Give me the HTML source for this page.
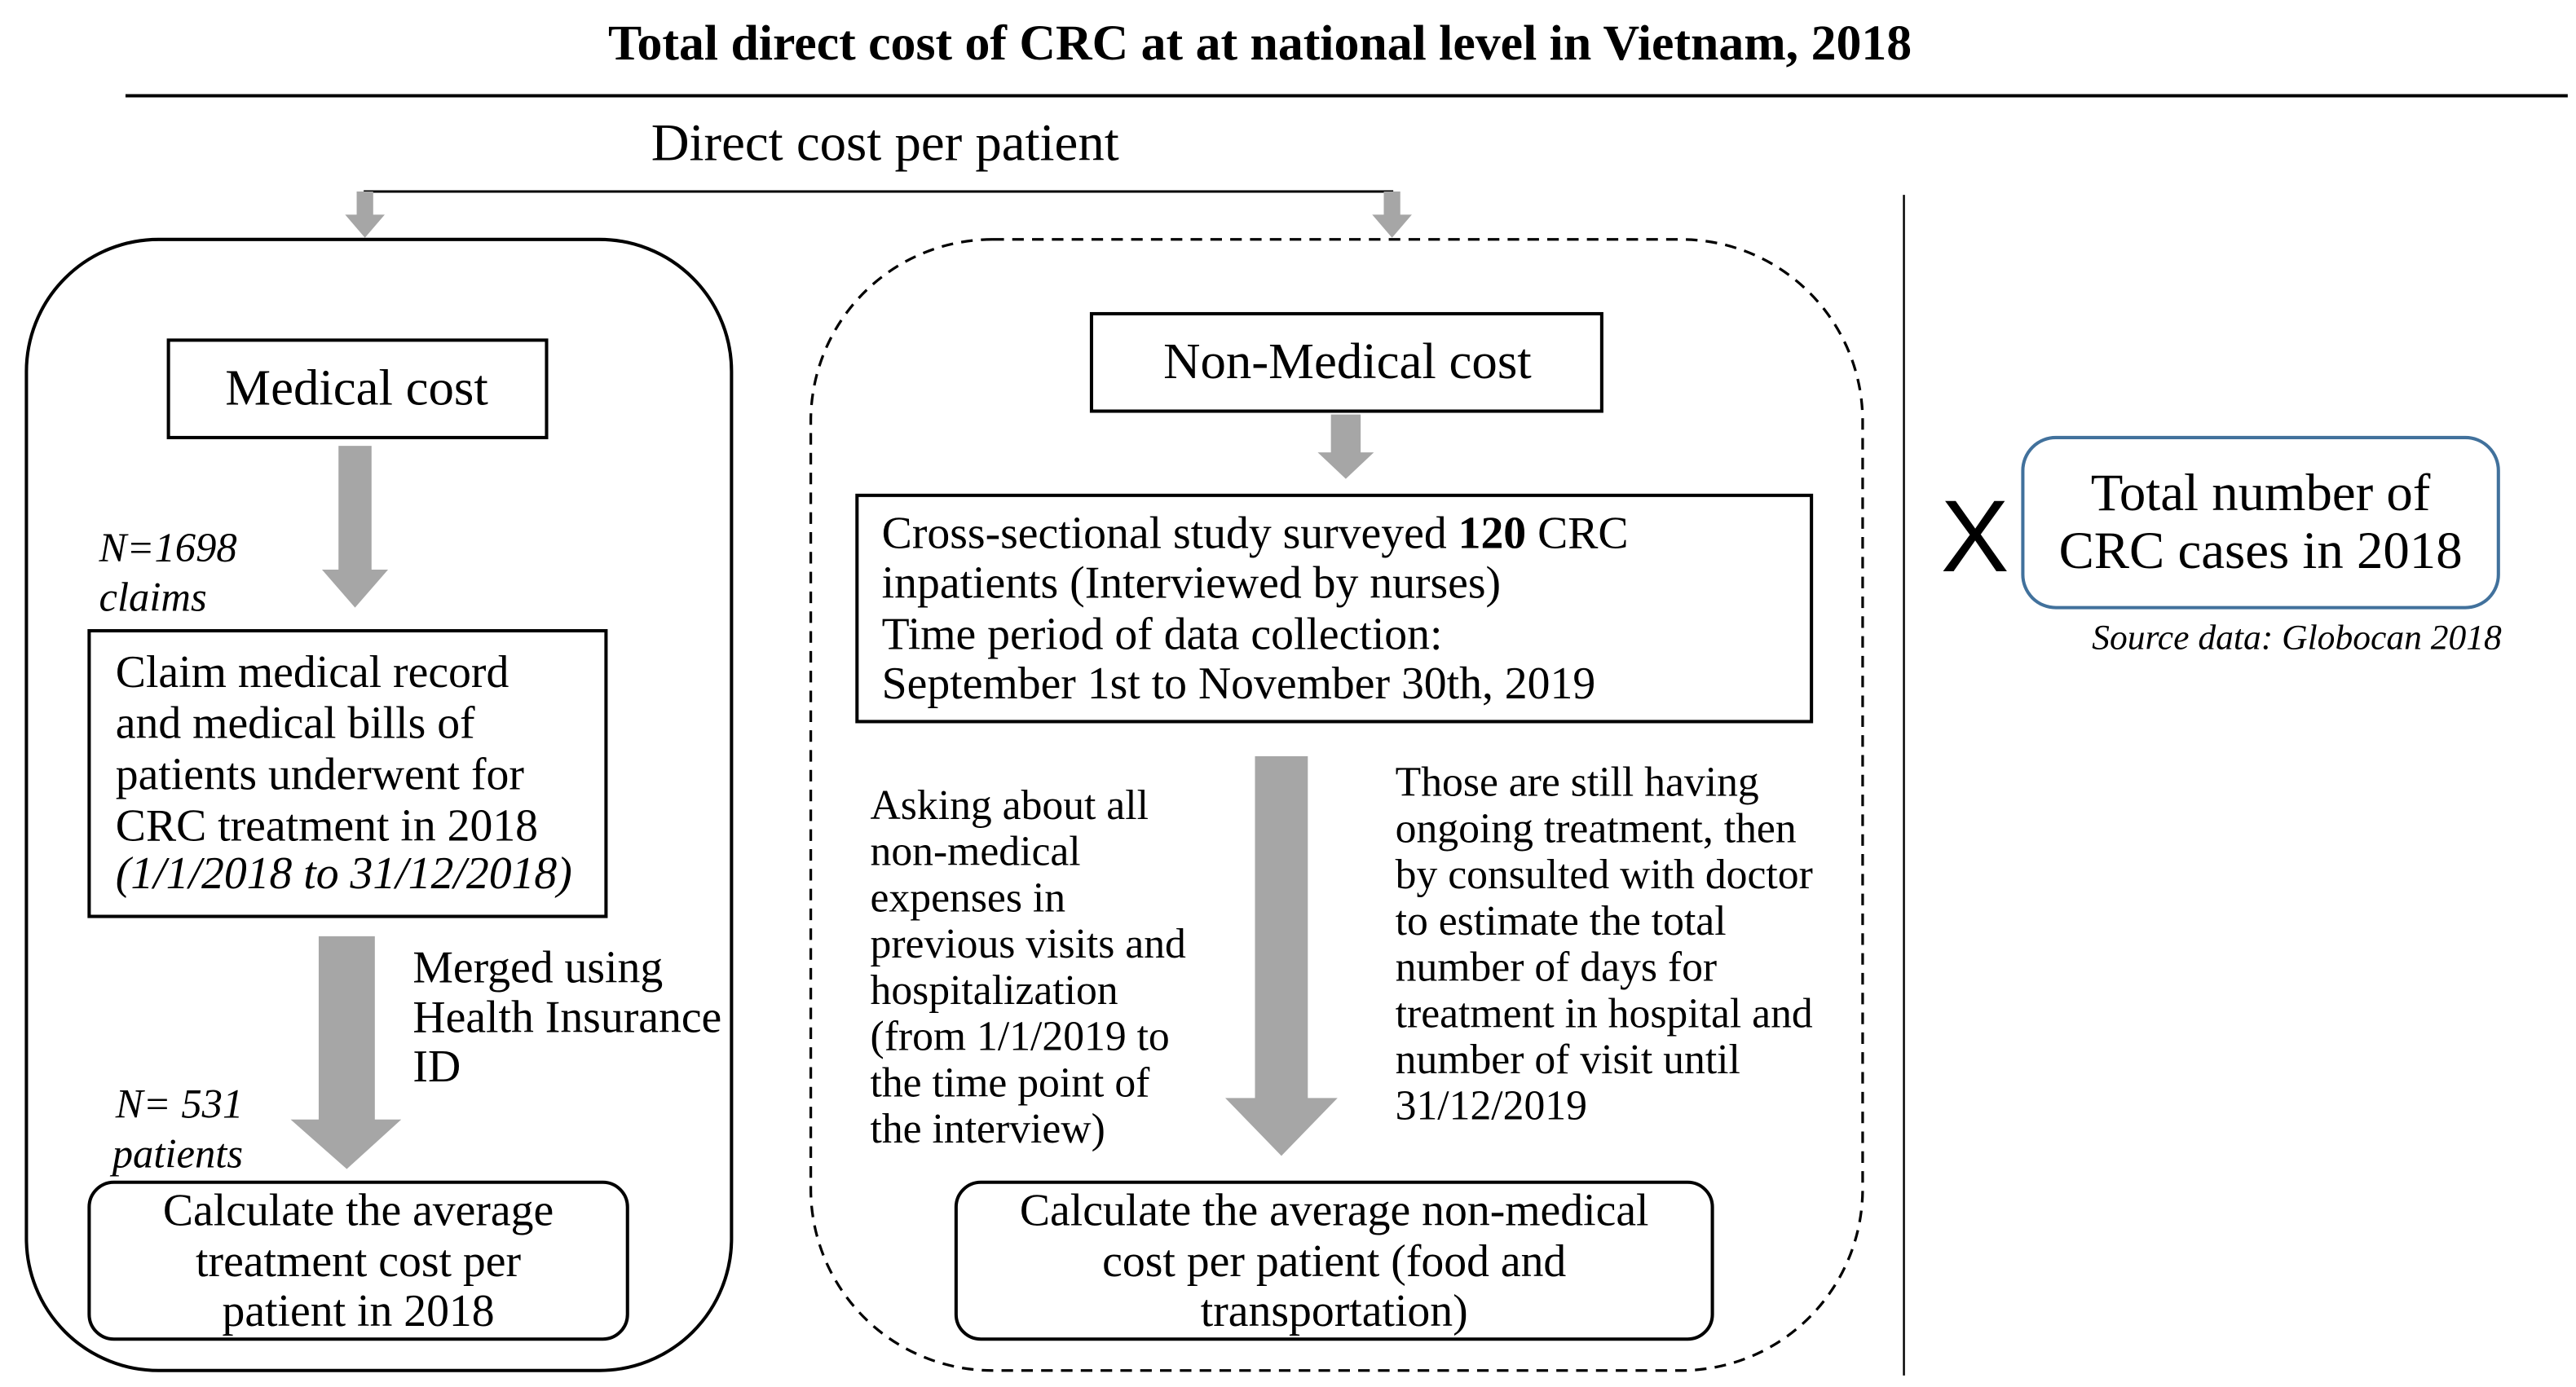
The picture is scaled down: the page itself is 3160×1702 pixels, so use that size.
<!DOCTYPE html>
<html><head><meta charset="utf-8"><style>
html,body{margin:0;padding:0;background:#fff;}
svg{display:block;}
text{font-family:"Liberation Serif",serif;fill:#000;}
</style></head><body>
<svg width="3160" height="1702" viewBox="0 0 1560 840" preserveAspectRatio="none" xmlns="http://www.w3.org/2000/svg">
<text x="763" y="36" font-size="30.5" font-weight="bold" text-anchor="middle">Total direct cost of CRC at at national level in Vietnam, 2018</text>
<line x1="76" y1="58" x2="1555" y2="58" stroke="#000" stroke-width="2"/>
<text x="536" y="97" font-size="32" text-anchor="middle">Direct cost per patient</text>
<polyline points="221,124 221,116 843,116 843,124" fill="none" stroke="#000" stroke-width="1.5"/>
<polygon points="216,116 226,116 226,130 233,130 221,144 209,130 216,130" fill="#a6a6a6"/>
<polygon points="838,116 848,116 848,130 855,130 843,144 831,130 838,130" fill="#a6a6a6"/>
<rect x="16" y="145" width="427" height="685" rx="80" ry="80" fill="none" stroke="#000" stroke-width="2"/>
<rect x="491" y="145" width="637" height="685" rx="110" ry="110" fill="none" stroke="#000" stroke-width="1.6" stroke-dasharray="7,5"/>
<line x1="1153" y1="118" x2="1153" y2="833" stroke="#000" stroke-width="1.2"/>

<rect x="102" y="206" width="229" height="59" fill="#fff" stroke="#000" stroke-width="2"/>
<text x="216" y="245" font-size="31" text-anchor="middle">Medical cost</text>
<polygon points="205,270 225,270 225,345 235,345 215,368 195,345 205,345" fill="#a6a6a6"/>
<text x="60" y="340" font-size="25" font-style="italic">N=1698</text>
<text x="60" y="370" font-size="25" font-style="italic">claims</text>
<rect x="54" y="382" width="313" height="173" fill="#fff" stroke="#000" stroke-width="2"/>
<g font-size="27.5">
<text x="70" y="416">Claim medical record</text>
<text x="70" y="447">and medical bills of</text>
<text x="70" y="478">patients underwent for</text>
<text x="70" y="509">CRC treatment in 2018</text>
<text x="70" y="538" font-style="italic">(1/1/2018 to 31/12/2018)</text>
</g>
<polygon points="193,567 227,567 227,678 243,678 210,708 176,678 193,678" fill="#a6a6a6"/>
<g font-size="27.5">
<text x="250" y="595">Merged using</text>
<text x="250" y="625">Health Insurance</text>
<text x="250" y="655">ID</text>
</g>
<text x="70" y="677" font-size="25" font-style="italic">N= 531</text>
<text x="68" y="707" font-size="25" font-style="italic">patients</text>
<rect x="54" y="716" width="326" height="95" rx="15" ry="15" fill="#fff" stroke="#000" stroke-width="2"/>
<g font-size="27.5" text-anchor="middle">
<text x="217" y="742">Calculate the average</text>
<text x="217" y="773">treatment cost per</text>
<text x="217" y="803">patient in 2018</text>
</g>

<rect x="661" y="190" width="309" height="59" fill="#fff" stroke="#000" stroke-width="2"/>
<text x="816" y="229" font-size="31" text-anchor="middle">Non-Medical cost</text>
<polygon points="806,251 824,251 824,274 832,274 815,290 798,274 806,274" fill="#a6a6a6"/>
<rect x="519" y="300" width="578" height="137" fill="#fff" stroke="#000" stroke-width="2"/>
<g font-size="27.5">
<text x="534" y="332">Cross-sectional study surveyed <tspan font-weight="bold">120</tspan> CRC</text>
<text x="534" y="362">inpatients (Interviewed by nurses)</text>
<text x="534" y="393">Time period of data collection:</text>
<text x="534" y="423">September 1st to November 30th, 2019</text>
</g>
<polygon points="760,458 792,458 792,665 810,665 776,700 742,665 760,665" fill="#a6a6a6"/>
<g font-size="25.5">
<text x="527" y="496">Asking about all</text>
<text x="527" y="524">non-medical</text>
<text x="527" y="552">expenses in</text>
<text x="527" y="580">previous visits and</text>
<text x="527" y="608">hospitalization</text>
<text x="527" y="636">(from 1/1/2019 to</text>
<text x="527" y="664">the time point of</text>
<text x="527" y="692">the interview)</text>
</g>
<g font-size="25.5">
<text x="845" y="482">Those are still having</text>
<text x="845" y="510">ongoing treatment, then</text>
<text x="845" y="538">by consulted with doctor</text>
<text x="845" y="566">to estimate the total</text>
<text x="845" y="594">number of days for</text>
<text x="845" y="622">treatment in hospital and</text>
<text x="845" y="650">number of visit until</text>
<text x="845" y="678">31/12/2019</text>
</g>
<rect x="579" y="716" width="458" height="95" rx="15" ry="15" fill="#fff" stroke="#000" stroke-width="2"/>
<g font-size="27.5" text-anchor="middle">
<text x="808" y="742">Calculate the average non-medical</text>
<text x="808" y="773">cost per patient (food and</text>
<text x="808" y="803">transportation)</text>
</g>

<text x="1196" y="346" font-size="62" text-anchor="middle" style="font-family:'Liberation Sans',sans-serif">X</text>
<rect x="1225" y="265" width="288" height="103" rx="20" ry="20" fill="#fff" stroke="#41719c" stroke-width="2"/>
<g font-size="32" text-anchor="middle">
<text x="1369" y="309">Total number of</text>
<text x="1369" y="344">CRC cases in 2018</text>
</g>
<text x="1515" y="393" font-size="21.5" font-style="italic" text-anchor="end">Source data: Globocan 2018</text>
</svg>
</body></html>
